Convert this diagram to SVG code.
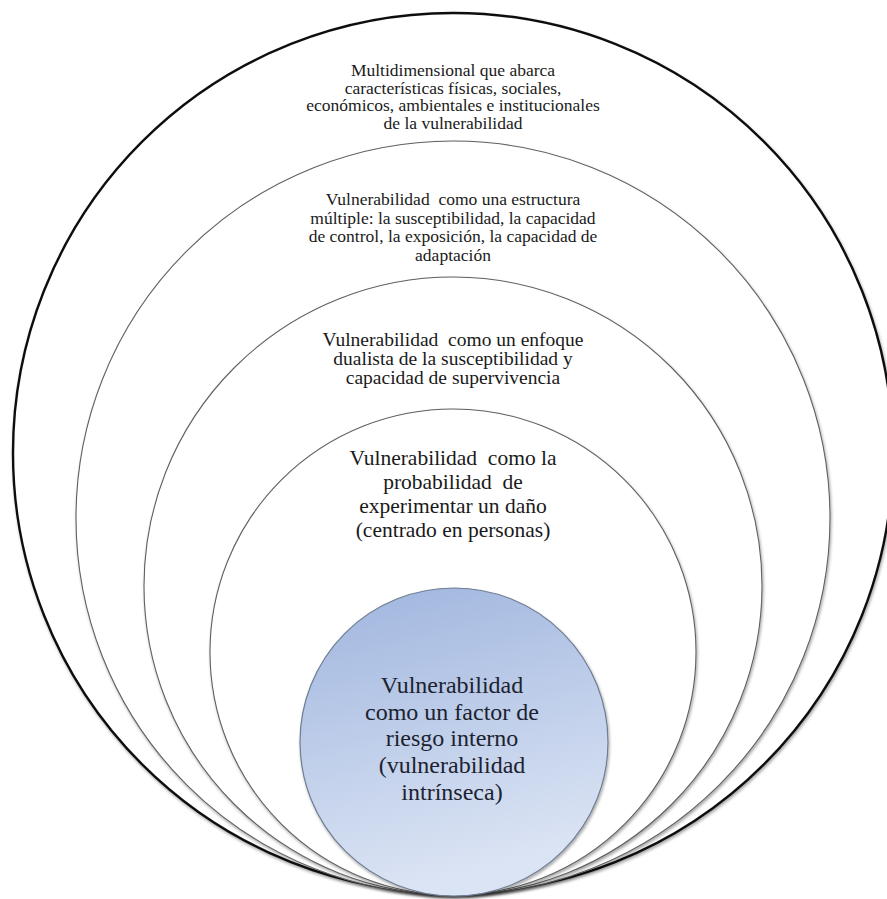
<svg xmlns="http://www.w3.org/2000/svg" width="887" height="899" viewBox="0 0 887 899">
  <defs>
    <filter id="shadow" x="-10%" y="-10%" width="120%" height="125%">
      <feDropShadow dx="1" dy="2" stdDeviation="1.6" flood-color="#000" flood-opacity="0.35"/>
    </filter>
    <linearGradient id="core" x1="0" y1="0" x2="0.25" y2="1">
      <stop offset="0" stop-color="#9fb5de"/>
      <stop offset="1" stop-color="#dbe4f4"/>
    </linearGradient>
  </defs>
  <style>
    .ring { fill: #ffffff; stroke: #606060; stroke-width: 1.1; filter: url(#shadow); }
    .outer { stroke: #111111; stroke-width: 2.4; }
    .core { fill: url(#core); stroke: #6f7d93; stroke-width: 1.2; filter: url(#shadow); }
    text { font-family: "Liberation Serif", "Times New Roman", serif; fill: #1a1a1a; text-anchor: middle; white-space: pre; }
    .t1 { font-size: 17.5px; }
    .t2 { font-size: 17.5px; }
    .t3 { font-size: 19.5px; }
    .t4 { font-size: 21.5px; }
    .t5 { font-size: 24px; fill: #1c2230; }
  </style>
  <rect width="887" height="899" fill="#ffffff"/>

  <!-- Outermost layer: multidimensional view -->
  <g id="layer-multidimensional">
    <circle class="ring outer" cx="453" cy="453" r="440"/>
    <text class="t1" x="453" y="76">Multidimensional que abarca</text>
    <text class="t1" x="453" y="93.5">características físicas, sociales,</text>
    <text class="t1" x="453" y="111">económicos, ambientales e institucionales</text>
    <text class="t1" x="453" y="128.5">de la vulnerabilidad</text>
  </g>

  <!-- Second layer: multiple structure -->
  <g id="layer-estructura">
    <circle class="ring" cx="453" cy="518" r="377"/>
    <text class="t2" x="453" y="205">Vulnerabilidad  como una estructura</text>
    <text class="t2" x="453" y="223.5">múltiple: la susceptibilidad, la capacidad</text>
    <text class="t2" x="453" y="242">de control, la exposición, la capacidad de</text>
    <text class="t2" x="453" y="260.5">adaptación</text>
  </g>

  <!-- Third layer: dualist approach -->
  <g id="layer-dualista">
    <circle class="ring" cx="453" cy="586" r="309"/>
    <text class="t3" x="453" y="346">Vulnerabilidad  como un enfoque</text>
    <text class="t3" x="453" y="365">dualista de la susceptibilidad y</text>
    <text class="t3" x="453" y="384">capacidad de supervivencia</text>
  </g>

  <!-- Fourth layer: probability of harm -->
  <g id="layer-probabilidad">
    <circle class="ring" cx="453" cy="652" r="243"/>
    <text class="t4" x="453" y="465">Vulnerabilidad  como la</text>
    <text class="t4" x="453" y="489">probabilidad  de</text>
    <text class="t4" x="453" y="513">experimentar un daño</text>
    <text class="t4" x="453" y="537">(centrado en personas)</text>
  </g>

  <!-- Core: internal risk factor -->
  <g id="core-intrinseca">
    <circle class="core" cx="454" cy="742" r="154"/>
    <text class="t5" x="452" y="693">Vulnerabilidad</text>
    <text class="t5" x="452" y="720">como un factor de</text>
    <text class="t5" x="452" y="746">riesgo interno</text>
    <text class="t5" x="452" y="773">(vulnerabilidad</text>
    <text class="t5" x="452" y="800">intrínseca)</text>
  </g>
</svg>
